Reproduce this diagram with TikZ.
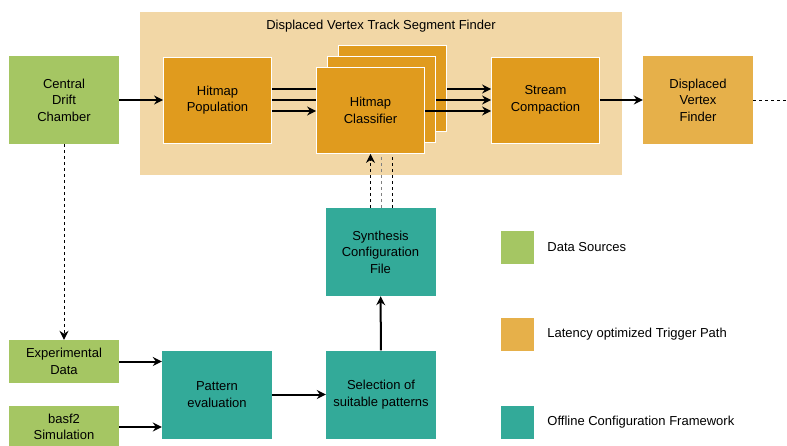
\documentclass[tikz,border=0pt]{standalone}
\usepackage{fontspec}
\setmainfont{Liberation Sans}
\usetikzlibrary{arrows.meta}
\definecolor{srcgreen}{HTML}{A5C663}
\definecolor{trgorange}{HTML}{E09B1E}
\definecolor{trgbg}{HTML}{F2D7A6}
\definecolor{dvforange}{HTML}{E6B04A}
\definecolor{cfgteal}{HTML}{33AA99}
\tikzset{
  >={Stealth[length=9pt,width=9pt,inset=3pt]},
  txt/.style={font=\fontsize{13}{16.5}\selectfont},
  blk/.style={txt, minimum width=110pt, minimum height=88pt, inner sep=2pt, align=center},
  src/.style={blk, fill=srcgreen},
  trg/.style={blk, fill=trgorange, draw=white, line width=0.8pt, minimum width=108pt, minimum height=86pt},
  cfg/.style={blk, fill=cfgteal},
  legbox/.style={minimum size=33pt, inner sep=0pt},
  flow/.style={line width=2pt, ->},
  link/.style={line width=2pt},
  hint/.style={line width=1pt, dash pattern=on 3pt off 3pt},
}
\begin{document}
\begin{tikzpicture}[x=1pt,y=-1pt]
  \useasboundingbox (0,0) rectangle (787,445);
  \fill[trgbg] (140,12) rectangle (622,175);
  \node[txt] (tsf) at (381,26) {Displaced Vertex Track Segment Finder};

  \node[src] (cdc) at (64,100) {Central\\Drift\\Chamber};
  \node[trg] (hmp) at (217.5,100) {Hitmap\\Population};
  \node[trg] (hmc3) at (392.5,88) {};
  \node[trg] (hmc2) at (381.5,99.5) {};
  \node[trg] (hmc1) at (370.5,110.5) {Hitmap\\Classifier};
  \node[trg] (stc) at (545.5,100) {Stream\\Compaction};
  \node[src, fill=dvforange] (dvf) at (698,100) {Displaced\\Vertex\\Finder};
  \coordinate (out) at (787,100);

  \node[cfg] (syn) at (380.5,252) {Synthesis\\Configuration\\File};
  \node[src, minimum height=43pt] (exp) at (64,361.5) {Experimental\\Data};
  \node[src, minimum height=43pt] (sim) at (64,427) {basf2\\Simulation};
  \node[cfg] (pev) at (217,394.5) {Pattern\\evaluation};
  \node[cfg] (sel) at (381,394.5) {Selection of\\suitable patterns};

  \node[legbox, fill=srcgreen] (lgsrc) at (517.5,247.5) {};
  \node[legbox, fill=dvforange] (lgtrg) at (517.5,334.5) {};
  \node[legbox, fill=cfgteal] (lgcfg) at (517.5,422.5) {};
  \node[txt, anchor=west, inner sep=0pt] (lgsrct) at ([xshift=13pt]lgsrc.east) {Data Sources};
  \node[txt, anchor=west, inner sep=0pt] (lgtrgt) at ([xshift=13pt]lgtrg.east) {Latency optimized Trigger Path};
  \node[txt, anchor=west, inner sep=0pt] (lgcfgt) at ([xshift=13pt]lgcfg.east) {Offline Configuration Framework};

  \draw[flow] (cdc) -- (hmp);
  \draw[link] ([yshift=11pt]hmp.east) -- ([yshift=11pt]hmp.east -| hmc1.west);
  \draw[link] (hmp.east) -- (hmp.east -| hmc1.west);
  \draw[flow] ([yshift=-11pt]hmp.east) -- ([yshift=-11pt]hmp.east -| hmc1.west);
  \draw[flow, line width=1.4pt] ([yshift=11pt]stc.west -| hmc3.east) -- ([yshift=11pt]stc.west);
  \draw[flow, line width=2.2pt] (stc.west -| hmc2.east) -- (stc.west);
  \draw[flow, line width=1.4pt] ([yshift=-11pt]stc.west -| hmc1.east) -- ([yshift=-11pt]stc.west);
  \draw[flow] (stc) -- (dvf);
  \draw[hint] (dvf) -- (out);

  \draw[hint, ->] (syn.north -| hmc1.south) -- (hmc1.south);
  \draw[hint, gray] ([xshift=11pt]syn.north -| hmc1.south) -- ([xshift=11pt]hmc1.south);
  \draw[hint] ([xshift=22pt]syn.north -| hmc1.south) -- ([xshift=22pt]hmc1.south);
  \draw[flow] (sel) -- (syn);

  \draw[hint, ->] (cdc) -- (exp);
  \draw[flow] (exp.east) -- (exp.east -| pev.west);
  \draw[flow] (sim.east) -- (sim.east -| pev.west);
  \draw[flow] (pev) -- (sel);
\end{tikzpicture}
\end{document}
